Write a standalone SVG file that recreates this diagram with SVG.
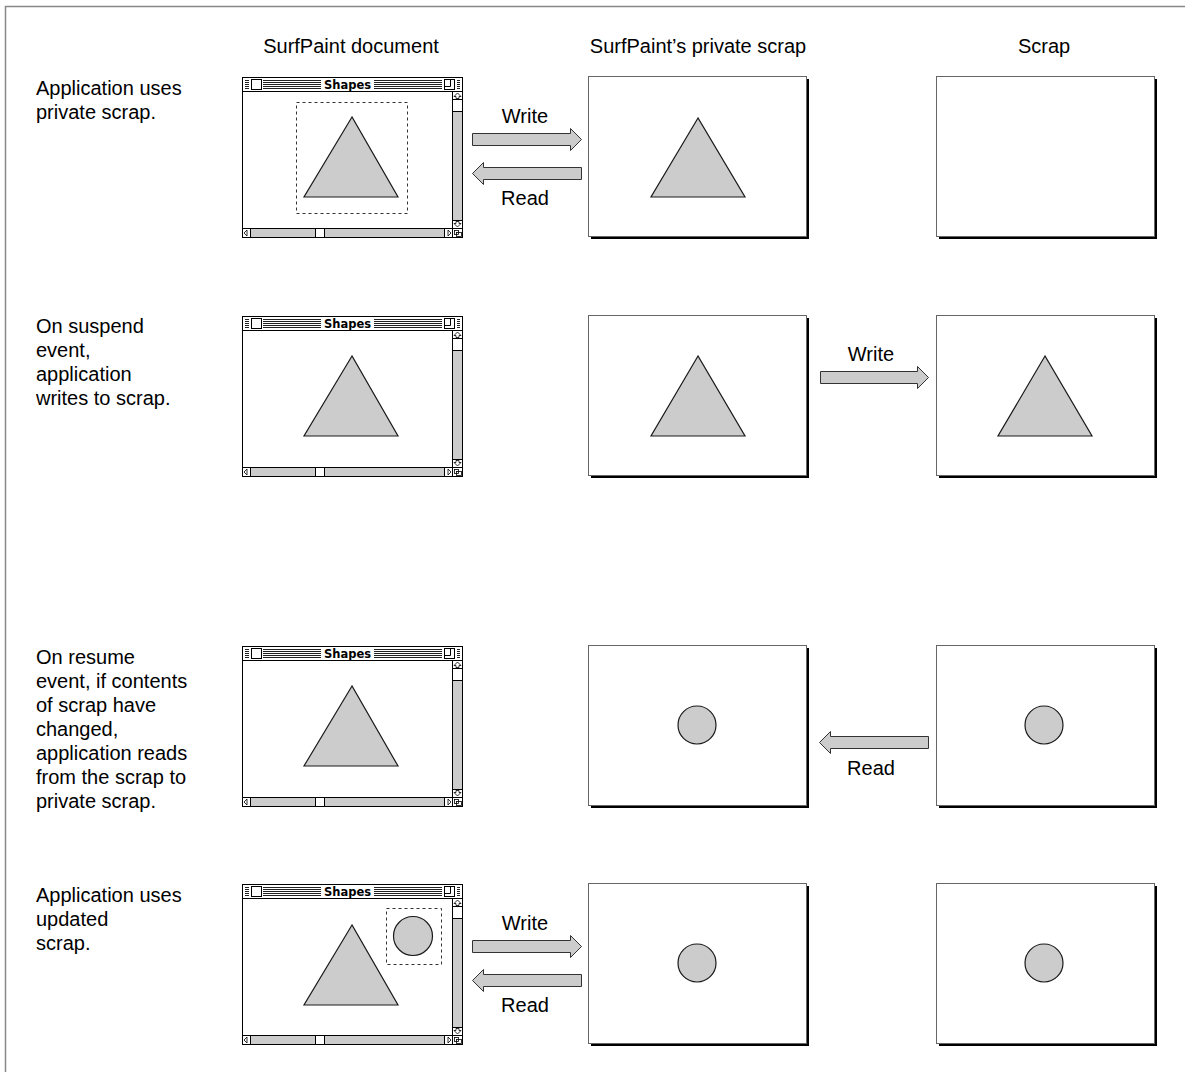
<svg xmlns="http://www.w3.org/2000/svg" width="1185" height="1072" viewBox="0 0 1185 1072">
  <style>
    .lbl { font-family: "Liberation Sans", Arial, sans-serif; font-size: 20px; fill: #000; }
    .mid { text-anchor: middle; }
    .ttl { font-family: "DejaVu Sans", sans-serif; font-weight: bold; font-size: 11.5px; text-anchor: middle; fill: #000; }
    .shape { fill: #cccccc; stroke: #1a1a1a; stroke-width: 1.2; }
    .sel { fill: none; stroke: #333; stroke-width: 1; stroke-dasharray: 3 3; }
    .arrow { fill: #cccccc; stroke: #333; stroke-width: 1; }
    .panel { fill: #fff; stroke: #666; stroke-width: 1; }
    .shadow { fill: #000; }
    .frame { fill: none; stroke: #888; stroke-width: 1.5; }
  </style>
  <defs>
    <!-- scrap panel: white box with a black drop shadow -->
    <g id="panel">
      <rect class="shadow" x="3" y="3" width="218" height="160"/>
      <rect class="panel" x="0.5" y="0.5" width="218" height="160"/>
    </g>
    <!-- document window chrome, 220 x 160 -->
    <g id="window">
      <rect x="0.5" y="0.5" width="220" height="160" fill="#fff" stroke="#000"/>
      <path d="M3 3.5H218M3 5.5H218M3 7.5H218M3 9.5H218M3 11.5H218" stroke="#222" stroke-width="1"/>
      <path d="M0 14.5H221" stroke="#000"/>
      <rect x="7" y="1" width="14" height="13" fill="#fff"/>
      <rect x="9.5" y="2.5" width="10" height="10" fill="#fff" stroke="#000"/>
      <rect x="79" y="1" width="53" height="13" fill="#fff"/>
      <text class="ttl" x="105.5" y="12">Shapes</text>
      <rect x="200" y="1" width="15" height="13" fill="#fff"/>
      <rect x="202.5" y="2.5" width="10" height="10" fill="#fff" stroke="#000"/>
      <path d="M202.5 9.5H208.5V2.5" fill="none" stroke="#000"/>
      <!-- vertical scroll bar -->
      <rect x="210.5" y="14.5" width="10" height="137" fill="#ccc" stroke="#000"/>
      <rect x="210.5" y="14.5" width="10" height="8" fill="#fff" stroke="#000"/>
      <path d="M215.5 16L219 19.5H217V21.5H214V19.5H212Z" fill="#fff" stroke="#000" stroke-width="0.8"/>
      <rect x="210.5" y="22.5" width="10" height="12" fill="#fff" stroke="#000"/>
      <rect x="210.5" y="143.5" width="10" height="8" fill="#fff" stroke="#000"/>
      <path d="M215.5 150L219 146.5H217V144.5H214V146.5H212Z" fill="#fff" stroke="#000" stroke-width="0.8"/>
      <!-- horizontal scroll bar -->
      <rect x="0.5" y="151.5" width="210" height="9" fill="#ccc" stroke="#000"/>
      <rect x="0.5" y="151.5" width="8" height="9" fill="#fff" stroke="#000"/>
      <path d="M2 156L5 153V159Z" fill="#fff" stroke="#000" stroke-width="0.8"/>
      <rect x="73.5" y="151.5" width="9" height="9" fill="#fff" stroke="#000"/>
      <rect x="202.5" y="151.5" width="8" height="9" fill="#fff" stroke="#000"/>
      <path d="M209 156L206 153V159Z" fill="#fff" stroke="#000" stroke-width="0.8"/>
      <!-- grow box -->
      <rect x="210.5" y="151.5" width="10" height="9" fill="#fff" stroke="#000"/>
      <rect x="212.5" y="153.5" width="4" height="4" fill="none" stroke="#000" stroke-width="0.8"/>
      <rect x="214.5" y="155.5" width="5" height="4" fill="none" stroke="#000" stroke-width="0.8"/>
    </g>
  </defs>

  <!-- page frame -->
  <path class="frame" d="M5.5 1072V6.5H1185"/>

  <!-- column headings -->
  <g id="headings">
    <text class="lbl mid" x="351" y="53">SurfPaint document</text>
    <text class="lbl mid" x="698" y="53">SurfPaint’s private scrap</text>
    <text class="lbl mid" x="1044" y="53">Scrap</text>
  </g>

  <!-- row captions -->
  <g id="captions">
    <text class="lbl" x="36" y="95">Application uses</text>
    <text class="lbl" x="36" y="119">private scrap.</text>
    <text class="lbl" x="36" y="333">On suspend</text>
    <text class="lbl" x="36" y="357">event,</text>
    <text class="lbl" x="36" y="381">application</text>
    <text class="lbl" x="36" y="405">writes to scrap.</text>
    <text class="lbl" x="36" y="664">On resume</text>
    <text class="lbl" x="36" y="688">event, if contents</text>
    <text class="lbl" x="36" y="712">of scrap have</text>
    <text class="lbl" x="36" y="736">changed,</text>
    <text class="lbl" x="36" y="760">application reads</text>
    <text class="lbl" x="36" y="784">from the scrap to</text>
    <text class="lbl" x="36" y="808">private scrap.</text>
    <text class="lbl" x="36" y="902">Application uses</text>
    <text class="lbl" x="36" y="926">updated</text>
    <text class="lbl" x="36" y="950">scrap.</text>
  </g>

  <!-- row 1 -->
  <g id="doc1" transform="translate(242,77)">
    <use href="#window"/>
    <rect class="sel" x="54.5" y="25.5" width="111" height="111"/>
    <polygon class="shape" points="110,40 62,120 156,120"/>
  </g>
  <g id="private1" transform="translate(588,76)">
    <use href="#panel"/>
    <polygon class="shape" points="110,42 63,121 157,121"/>
  </g>
  <g id="scrap1" transform="translate(936,76)">
    <use href="#panel"/>
  </g>

  <!-- row 2 -->
  <g id="doc2" transform="translate(242,316)">
    <use href="#window"/>
    <polygon class="shape" points="110,40 62,120 156,120"/>
  </g>
  <g id="private2" transform="translate(588,315)">
    <use href="#panel"/>
    <polygon class="shape" points="110,41 63,121 157,121"/>
  </g>
  <g id="scrap2" transform="translate(936,315)">
    <use href="#panel"/>
    <polygon class="shape" points="109,41 62,121 156,121"/>
  </g>

  <!-- row 3 -->
  <g id="doc3" transform="translate(242,646)">
    <use href="#window"/>
    <polygon class="shape" points="110,40 62,120 156,120"/>
  </g>
  <g id="private3" transform="translate(588,645)">
    <use href="#panel"/>
    <circle class="shape" cx="109" cy="80" r="19"/>
  </g>
  <g id="scrap3" transform="translate(936,645)">
    <use href="#panel"/>
    <circle class="shape" cx="108" cy="80" r="19"/>
  </g>

  <!-- row 4 -->
  <g id="doc4" transform="translate(242,884)">
    <use href="#window"/>
    <rect class="sel" x="144.5" y="24.5" width="55" height="56"/>
    <circle class="shape" cx="171" cy="52" r="19.5"/>
    <polygon class="shape" points="110,41 62,121 156,121"/>
  </g>
  <g id="private4" transform="translate(588,883)">
    <use href="#panel"/>
    <circle class="shape" cx="109" cy="80" r="19"/>
  </g>
  <g id="scrap4" transform="translate(936,883)">
    <use href="#panel"/>
    <circle class="shape" cx="108" cy="80" r="19"/>
  </g>

  <!-- transfer arrows and their labels -->
  <g id="connectors">
    <path class="arrow" d="M472.5 133.5H570.5V128.5L581.5 139.5L570.5 150.5V145.5H472.5Z"/>
    <text class="lbl mid" x="525" y="123">Write</text>
    <path class="arrow" d="M581.5 167.5H483.5V162.5L472.5 173.5L483.5 184.5V179.5H581.5Z"/>
    <text class="lbl mid" x="525" y="205">Read</text>

    <path class="arrow" d="M820.5 371.5H917.5V366.5L928.5 377.5L917.5 388.5V383.5H820.5Z"/>
    <text class="lbl mid" x="871" y="361">Write</text>

    <path class="arrow" d="M928.5 736.5H830.5V731.5L819.5 742.5L830.5 753.5V748.5H928.5Z"/>
    <text class="lbl mid" x="871" y="775">Read</text>

    <path class="arrow" d="M472.5 940.5H570.5V935.5L581.5 946.5L570.5 957.5V952.5H472.5Z"/>
    <text class="lbl mid" x="525" y="930">Write</text>
    <path class="arrow" d="M581.5 974.5H483.5V969.5L472.5 980.5L483.5 991.5V986.5H581.5Z"/>
    <text class="lbl mid" x="525" y="1012">Read</text>
  </g>
</svg>
